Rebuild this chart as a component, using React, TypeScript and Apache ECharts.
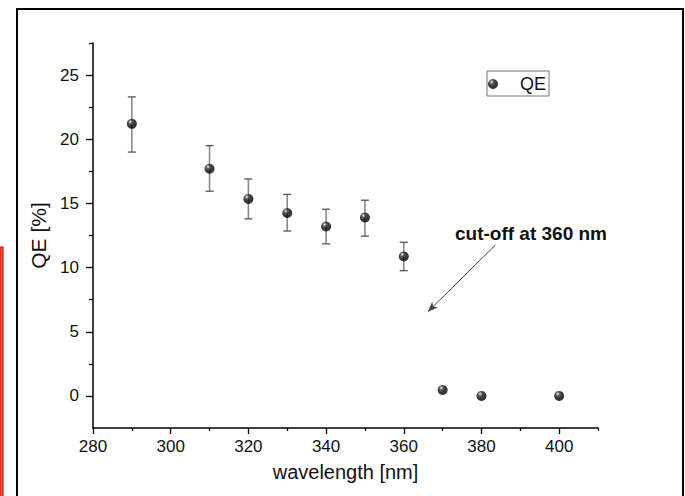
import React, { useEffect, useRef } from "react";
import * as echarts from "echarts";

// ---- data ----
const wavelengths = [290, 310, 320, 330, 340, 350, 360, 370, 380, 400];
const qeValues = [21.2, 17.7, 15.35, 14.25, 13.2, 13.9, 10.87, 0.47, 0.0, 0.0];
const errWavelengths = [290, 310, 320, 330, 340, 350, 360];
const errLow = [19.0, 15.95, 13.8, 12.85, 11.85, 12.45, 9.76];
const errHigh = [23.3, 19.5, 16.9, 15.7, 14.55, 15.25, 11.97];

const xMajorTicks = [280, 300, 320, 340, 360, 380, 400];
const xMinorTicks = [290, 310, 330, 350, 370, 390, 410];
const yMajorTicks = [0, 5, 10, 15, 20, 25];
const yMinorTicks = [2.5, 7.5, 12.5, 17.5, 22.5, 27.5];

const annotationText = "cut-off at 360 nm";
const arrowFrom = [383.6, 11.76];
const arrowTo = [366.2, 6.56];

const FONT = "'Liberation Sans', Arial, Helvetica, sans-serif";

export default function App() {
  const ref = useRef<HTMLDivElement>(null);

  useEffect(() => {
    document.body.style.margin = "0";
    if (!ref.current) return;
    const chart = echarts.init(ref.current, undefined, { renderer: "svg" });

    const sphere = {
      type: "radial",
      x: 0.36,
      y: 0.3,
      r: 0.7,
      colorStops: [
        { offset: 0, color: "#ffffff" },
        { offset: 0.12, color: "#a0a0a0" },
        { offset: 0.32, color: "#2a2a2a" },
        { offset: 0.6, color: "#080808" },
        { offset: 1, color: "#000" },
      ],
    };

    const errData = errWavelengths.map((w, i) => [w, errLow[i], errHigh[i]]);
    const scatterData = wavelengths.map((w, i) => [w, qeValues[i]]);

    const xCommon = {
      type: "value",
      min: 280,
      max: 410,
      position: "bottom",
      splitLine: { show: false },
    };
    const yCommon = {
      type: "value",
      min: -2.5,
      max: 27.5,
      position: "left",
      splitLine: { show: false },
    };

    chart.setOption({
      animation: false,
      backgroundColor: "#ffffff",
      grid: { left: 93, right: 87, top: 43, bottom: 68, containLabel: false },
      xAxis: [
        {
          ...xCommon,
          name: "wavelength [nm]",
          nameLocation: "middle",
          nameGap: 34,
          nameTextStyle: { fontFamily: FONT, fontSize: 20, color: "#111" },
          axisLine: { show: true, onZero: false, lineStyle: { color: "#000", width: 1.5 } },
          axisTick: {
            show: true,
            inside: false,
            length: 6,
            customValues: xMajorTicks,
            lineStyle: { color: "#000", width: 1.3 },
          },
          axisLabel: {
            show: true,
            customValues: xMajorTicks,
            margin: 10,
            fontFamily: FONT,
            fontSize: 17,
            color: "#111",
          },
        },
        {
          ...xCommon,
          axisLine: { show: false, onZero: false },
          axisTick: {
            show: true,
            inside: false,
            length: 3,
            customValues: xMinorTicks,
            lineStyle: { color: "#000", width: 1.3 },
          },
          axisLabel: { show: false },
        },
      ],
      yAxis: [
        {
          ...yCommon,
          name: "QE [%]",
          nameLocation: "middle",
          nameGap: 36,
          nameRotate: 90,
          nameTextStyle: { fontFamily: FONT, fontSize: 21, color: "#111" },
          axisLine: { show: true, onZero: false, lineStyle: { color: "#000", width: 1.5 } },
          axisTick: {
            show: true,
            inside: false,
            length: 7,
            customValues: yMajorTicks,
            lineStyle: { color: "#000", width: 1.3 },
          },
          axisLabel: {
            show: true,
            customValues: yMajorTicks,
            margin: 14,
            fontFamily: FONT,
            fontSize: 17,
            color: "#111",
          },
        },
        {
          ...yCommon,
          axisLine: { show: false, onZero: false },
          axisTick: {
            show: true,
            inside: false,
            length: 4,
            customValues: yMinorTicks,
            lineStyle: { color: "#000", width: 1.3 },
          },
          axisLabel: { show: false },
        },
      ],
      legend: {
        show: true,
        data: [{ name: "QE", icon: "circle" }],
        left: 487,
        top: 71,
        orient: "horizontal",
        padding: [4, 3, 3, 1],
        itemWidth: 44,
        itemHeight: 10,
        borderColor: "#777",
        borderWidth: 1,
        borderRadius: 0,
        backgroundColor: "#fff",
        textStyle: { fontFamily: FONT, fontSize: 18, color: "#111" },
      },
      series: [
        {
          name: "errorbars",
          type: "custom",
          xAxisIndex: 0,
          yAxisIndex: 0,
          z: 1,
          data: errData,
          encode: { x: 0, y: [1, 2] },
          renderItem: (params: any, api: any) => {
            const x = api.value(0);
            const lo = api.coord([x, api.value(1)]);
            const hi = api.coord([x, api.value(2)]);
            const cap = 4;
            return {
              type: "group",
              children: [
                {
                  type: "line",
                  shape: { x1: lo[0], y1: lo[1], x2: hi[0], y2: hi[1] },
                  style: { stroke: "#8a8a8a", lineWidth: 1.6 },
                },
                {
                  type: "line",
                  shape: { x1: hi[0] - cap, y1: hi[1], x2: hi[0] + cap, y2: hi[1] },
                  style: { stroke: "#555", lineWidth: 1.3 },
                },
                {
                  type: "line",
                  shape: { x1: lo[0] - cap, y1: lo[1], x2: lo[0] + cap, y2: lo[1] },
                  style: { stroke: "#555", lineWidth: 1.3 },
                },
              ],
            };
          },
          silent: true,
        },
        {
          name: "QE",
          type: "scatter",
          xAxisIndex: 0,
          yAxisIndex: 0,
          z: 3,
          symbol: "circle",
          symbolSize: 10,
          itemStyle: { color: sphere as any, borderWidth: 0 },
          data: scatterData,
          markLine: {
            silent: true,
            symbol: ["none", "arrow"],
            symbolSize: [6, 10],
            label: { show: false },
            lineStyle: { color: "#444", width: 1, type: "solid" },
            data: [[{ coord: arrowFrom, symbol: "none" }, { coord: arrowTo, symbol: "arrow" }]],
          },
        },
      ],
      graphic: [
        {
          type: "rect",
          silent: true,
          shape: { x: 17, y: 9, width: 666, height: 500 },
          style: { fill: "none", stroke: "#000", lineWidth: 2 },
          z: 100,
        },
        {
          type: "rect",
          silent: true,
          shape: { x: 0, y: 247, width: 3, height: 260 },
          style: { fill: "#f05a3a", stroke: "#e01010", lineWidth: 1.2 },
          z: 100,
        },
        {
          type: "text",
          silent: true,
          x: 531,
          y: 233,
          style: {
            text: annotationText,
            fontFamily: FONT,
            fontSize: 19,
            fontWeight: "bold",
            fill: "#111",
            align: "center",
            verticalAlign: "middle",
          },
          z: 100,
        },
      ],
    });

    return () => {
      chart.dispose();
    };
  }, []);

  return <div ref={ref} style={{ width: 685, height: 496 }} />;
}
